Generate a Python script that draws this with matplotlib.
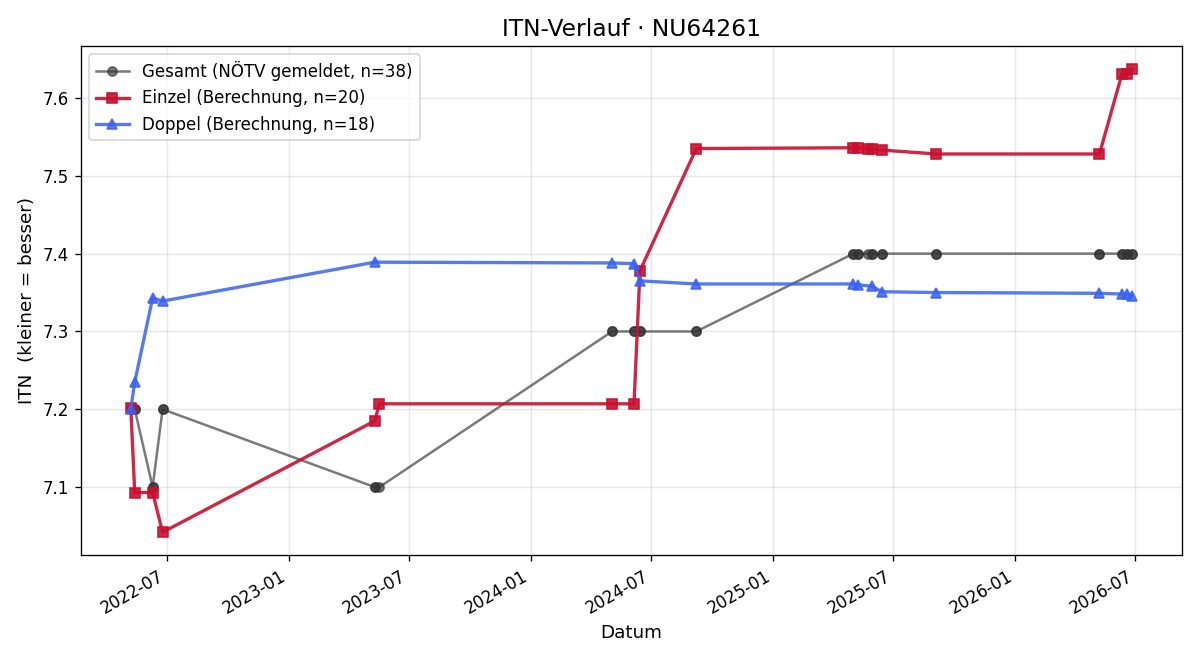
import pandas as pd
import matplotlib
matplotlib.use("Agg")
import matplotlib.pyplot as plt
import matplotlib.dates as mdates

# Einzel (Berechnung)
einzel_dates = ['2022-05-08', '2022-05-14', '2022-06-10', '2022-06-25', '2023-05-11',
                '2023-05-18', '2024-05-03', '2024-06-05', '2024-06-14', '2024-09-07',
                '2025-05-02', '2025-05-09', '2025-05-24', '2025-05-30', '2025-06-14',
                '2025-09-04', '2026-05-08', '2026-06-11', '2026-06-19', '2026-06-26']
einzel_itn = [7.202, 7.093, 7.093, 7.042, 7.185,
              7.207, 7.207, 7.207, 7.378, 7.535,
              7.536, 7.536, 7.535, 7.534, 7.533,
              7.528, 7.528, 7.631, 7.631, 7.637]

# Doppel (Berechnung)
doppel_dates = ['2022-05-08', '2022-05-14', '2022-06-10', '2022-06-25', '2023-05-11',
                '2024-05-03', '2024-06-05', '2024-06-14', '2024-09-07', '2025-05-02',
                '2025-05-09', '2025-05-30', '2025-06-14', '2025-09-04', '2026-05-08',
                '2026-06-11', '2026-06-19', '2026-06-26']
doppel_itn = [7.200, 7.235, 7.343, 7.339, 7.389,
              7.388, 7.387, 7.365, 7.361, 7.361,
              7.360, 7.358, 7.351, 7.350, 7.349,
              7.348, 7.348, 7.346]

# Gesamt (NÖTV gemeldet) - one entry per match
gesamt_dates = ['2022-05-08', '2022-05-08', '2022-05-14', '2022-05-14', '2022-06-10',
                '2022-06-10', '2022-06-25', '2022-06-25', '2023-05-11', '2023-05-11',
                '2023-05-18', '2024-05-03', '2024-05-03', '2024-06-05', '2024-06-05',
                '2024-06-14', '2024-06-14', '2024-09-07', '2024-09-07', '2025-05-02',
                '2025-05-02', '2025-05-09', '2025-05-09', '2025-05-24', '2025-05-30',
                '2025-05-30', '2025-06-14', '2025-06-14', '2025-09-04', '2025-09-04',
                '2026-05-08', '2026-05-08', '2026-06-11', '2026-06-11', '2026-06-19',
                '2026-06-19', '2026-06-26', '2026-06-26']
gesamt_itn = [7.2, 7.2, 7.2, 7.2, 7.1,
              7.1, 7.2, 7.2, 7.1, 7.1,
              7.1, 7.3, 7.3, 7.3, 7.3,
              7.3, 7.3, 7.3, 7.3, 7.4,
              7.4, 7.4, 7.4, 7.4, 7.4,
              7.4, 7.4, 7.4, 7.4, 7.4,
              7.4, 7.4, 7.4, 7.4, 7.4,
              7.4, 7.4, 7.4]

fig, ax = plt.subplots(figsize=(10, 5.5), dpi=120)

ax.plot(pd.to_datetime(gesamt_dates), gesamt_itn, marker='o', color='#333333', alpha=0.65,
        linewidth=1.5, markersize=5.5, label=f'Gesamt (NÖTV gemeldet, n={len(gesamt_itn)})')
ax.plot(pd.to_datetime(einzel_dates), einzel_itn, marker='s', color='#c8102e', alpha=0.9,
        linewidth=2, markersize=6.5, label=f'Einzel (Berechnung, n={len(einzel_itn)})')
ax.plot(pd.to_datetime(doppel_dates), doppel_itn, marker='^', color='#3a62f0', alpha=0.85,
        linewidth=2, markersize=6.5, label=f'Doppel (Berechnung, n={len(doppel_itn)})')

ax.set_title('ITN-Verlauf · NU64261', fontsize=14)
ax.set_xlabel('Datum', fontsize=11)
ax.set_ylabel('ITN  (kleiner = besser)', fontsize=11)
ax.grid(True, alpha=0.3)
ax.legend(loc='upper left', fontsize=10)
ax.xaxis.set_major_formatter(mdates.DateFormatter('%Y-%m'))
fig.autofmt_xdate()
fig.tight_layout()
fig.savefig('out.png')
